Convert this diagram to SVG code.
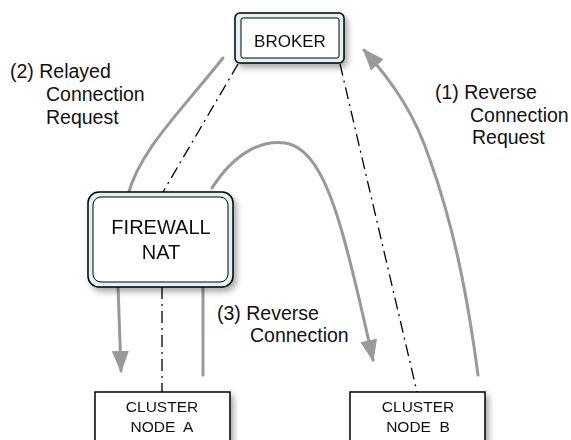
<svg xmlns="http://www.w3.org/2000/svg" width="571" height="440" viewBox="0 0 571 440">
<defs>
  <filter id="shadow" x="-20%" y="-20%" width="150%" height="160%">
    <feDropShadow dx="3" dy="4" stdDeviation="3" flood-color="#000" flood-opacity="0.35"/>
  </filter>
  <marker id="arrow" viewBox="0 0 22 17" markerWidth="22" markerHeight="17" refX="20" refY="8.5" orient="auto" markerUnits="userSpaceOnUse">
    <path d="M0,0 L22,8.5 L0,17 z" fill="#999999"/>
  </marker>
</defs>
<style>
  text { font-family: "Liberation Sans", Arial, Helvetica, sans-serif; fill: #111; }
  .flow { fill: none; stroke: #999999; stroke-width: 3; stroke-linecap: round; }
  .dd { fill: none; stroke: #000; stroke-width: 1.3; stroke-dasharray: 12 5 2 5; }
  .outer { fill: #dff3f3; stroke: #000; stroke-width: 1.5; }
  .inner { fill: #ffffff; stroke: #000; stroke-width: 1; }
  .box { fill: #ffffff; stroke: #000; stroke-width: 1.5; }
  .lbl { font-size: 19.5px; }
  .node { text-anchor: middle; }
</style>
<rect width="571" height="440" fill="#ffffff"/>
<g id="connectors">
  <path class="dd" d="M238,64 L163,192"/>
  <path class="dd" d="M162,287 L162,392"/>
  <path class="dd" d="M340,64 L417,392"/>
  <path class="flow" d="M223,58 C180,112 140,150 128,195"/>
  <path class="flow" d="M118,286 C119,310 120,340 121,371" marker-end="url(#arrow)"/>
  <path class="flow" d="M203,375 L203,285"/>
  <path class="flow" d="M212,188 C235,152 262,140 285,143 C312,147 328,185 340,225 C352,265 362,310 373,360" marker-end="url(#arrow)"/>
  <path class="flow" d="M478,375 C468,300 455,230 430,160 C415,115 395,85 364,50" marker-end="url(#arrow)"/>
</g>
<g id="labels">
  <text class="lbl" x="10" y="78">(2) Relayed</text>
  <text class="lbl" x="46" y="101">Connection</text>
  <text class="lbl" x="46" y="124">Request</text>
  <text class="lbl" x="435" y="99">(1) Reverse</text>
  <text class="lbl" x="470" y="122">Connection</text>
  <text class="lbl" x="472" y="144">Request</text>
  <text class="lbl" x="217" y="320">(3) Reverse</text>
  <text class="lbl" x="250" y="342">Connection</text>
</g>
<g id="broker" filter="url(#shadow)">
  <rect class="outer" x="235" y="13" width="109" height="50" rx="5"/>
  <rect class="inner" x="241" y="18" width="98" height="40" rx="2"/>
  <text class="node" x="290" y="47" font-size="17">BROKER</text>
</g>
<g id="firewall" filter="url(#shadow)">
  <rect class="outer" x="88" y="192" width="145" height="95" rx="11"/>
  <rect class="inner" x="93" y="197" width="135" height="85" rx="8"/>
  <text class="node" x="161" y="234" font-size="20">FIREWALL</text>
  <text class="node" x="161" y="259" font-size="20">NAT</text>
</g>
<g id="nodeA" filter="url(#shadow)">
  <rect class="box" x="95" y="392" width="135" height="55"/>
  <text class="node" x="162" y="412" font-size="15.5">CLUSTER</text>
  <text class="node" x="162" y="432" font-size="15.5" xml:space="preserve">NODE  A</text>
</g>
<g id="nodeB" filter="url(#shadow)">
  <rect class="box" x="350" y="392" width="135" height="55"/>
  <text class="node" x="418" y="412" font-size="15.5">CLUSTER</text>
  <text class="node" x="418" y="432" font-size="15.5" xml:space="preserve">NODE  B</text>
</g>
</svg>
